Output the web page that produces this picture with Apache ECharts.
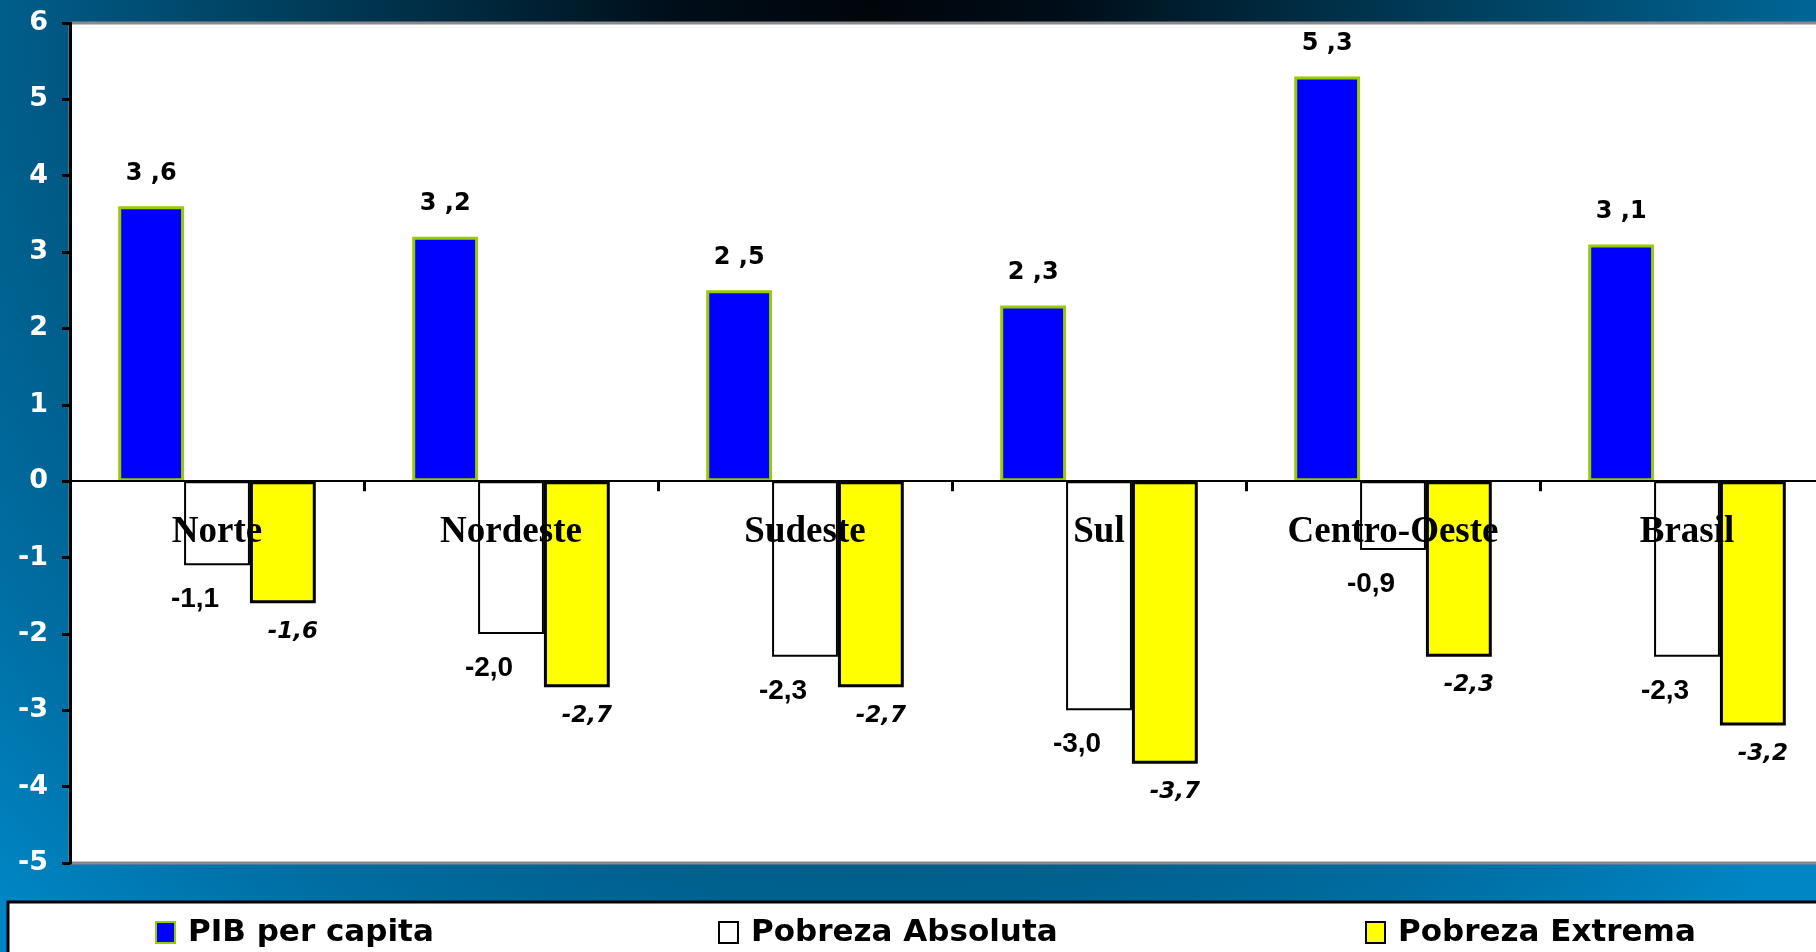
<!DOCTYPE html>
<html>
<head>
<meta charset="utf-8">
<script src="https://cdn.jsdelivr.net/npm/echarts@6/dist/echarts.min.js"></script>
<style>
html,body{margin:0;padding:0;}
body{width:1816px;height:952px;overflow:hidden;
background: radial-gradient(circle 1250px at 48% 0%, #00050a 0%, #000d18 15%, #002a40 33%, #00405f 48%, #005c88 68%, #0070a6 85%, #0086c4 100%);}
#chart{width:1816px;height:952px;}
</style>
</head>
<body>
<div id="chart"></div>
<script>
const categories = ['Norte', 'Nordeste', 'Sudeste', 'Sul', 'Centro-Oeste', 'Brasil'];
const pibPerCapita = [3.6, 3.2, 2.5, 2.3, 5.3, 3.1];
const pobrezaAbsoluta = [-1.1, -2.0, -2.3, -3.0, -0.9, -2.3];
const pobrezaExtrema = [-1.6, -2.7, -2.7, -3.7, -2.3, -3.2];
const yTicks = [-5, -4, -3, -2, -1, 0, 1, 2, 3, 4, 5, 6];
const categoryBaseline = categories.map(() => 0);

const fmt = v => v.toFixed(1).replace('.', ',');

const chart = echarts.init(document.getElementById('chart'), null, {renderer: 'canvas'});
chart.setOption({
  backgroundColor: 'transparent',
  animation: false,
  graphic: [{
    type: 'rect', z: -10,
    shape: {x: 8, y: 902, width: 1900, height: 120},
    style: {fill: '#ffffff', stroke: '#000000', lineWidth: 3}
  }],
  grid: {
    left: 70, top: 23, right: -18, bottom: 89,
    outerBoundsMode: 'none', containLabel: false,
    show: true, backgroundColor: '#ffffff', borderColor: '#8a8a8a', borderWidth: 3
  },
  legend: [
    {data: ['PIB per capita'], left: 150, top: 912},
    {data: ['Pobreza Absoluta'], left: 713, top: 912},
    {data: ['Pobreza Extrema'], left: 1360, top: 912}
  ].map(l => Object.assign(l, {
    icon: 'rect', itemWidth: 19, itemHeight: 21,
    textStyle: {fontFamily: 'DejaVu Sans', fontWeight: 'bold', fontSize: 31, color: '#000', padding: [0, 0, 0, 8]}
  })),
  xAxis: {
    type: 'category', data: categories, z: 10,
    axisLine: {onZero: true, lineStyle: {color: '#000', width: 2}},
    axisTick: {show: true, length: 10, lineStyle: {color: '#000', width: 3}},
    axisLabel: {show: false},
    splitLine: {show: false}
  },
  yAxis: {
    type: 'value', min: yTicks[0], max: yTicks[yTicks.length - 1], interval: 1, z: 10,
    axisLine: {show: true, lineStyle: {color: '#000', width: 3}},
    axisTick: {show: true, length: 8, lineStyle: {color: '#000', width: 3}},
    axisLabel: {margin: 22, fontFamily: 'DejaVu Sans', fontWeight: 'bold', fontSize: 27, color: '#fff'},
    splitLine: {show: false}
  },
  series: [
    {
      name: 'PIB per capita', type: 'bar', data: pibPerCapita,
      barWidth: '22.4%', barGap: '0%',
      itemStyle: {color: '#0000ff', borderColor: '#99cc00', borderWidth: 3},
      label: {show: true, position: 'top', distance: 21, formatter: p => fmt(p.value).replace(',', ' ,'),
        fontFamily: 'DejaVu Sans', fontWeight: 'bold', fontSize: 24, color: '#000'}
    },
    {
      name: 'Pobreza Absoluta', type: 'bar', data: pobrezaAbsoluta,
      barWidth: '22.4%', barGap: '0%',
      itemStyle: {color: '#ffffff', borderColor: '#000000', borderWidth: 2},
      label: {show: true, position: 'bottom', distance: 20, offset: [-22, 0], formatter: p => fmt(p.value),
        fontFamily: 'Liberation Sans', fontWeight: 'bold', fontSize: 28, color: '#000'}
    },
    {
      name: 'Pobreza Extrema', type: 'bar', data: pobrezaExtrema,
      barWidth: '22.4%', barGap: '0%',
      itemStyle: {color: '#ffff00', borderColor: '#000000', borderWidth: 3},
      label: {show: true, position: 'bottom', distance: 17, offset: [10, 0], formatter: p => fmt(p.value),
        fontFamily: 'DejaVu Sans', fontWeight: 'bold', fontStyle: 'italic', fontSize: 23, color: '#000'}
    },
    {
      name: 'categorias', type: 'scatter', data: categoryBaseline, z: 6,
      symbolSize: 0, silent: true, itemStyle: {opacity: 1},
      label: {show: true, position: 'bottom', distance: 33, formatter: p => categories[p.dataIndex],
        fontFamily: 'Liberation Serif', fontWeight: 'bold', fontSize: 37, color: '#000', opacity: 1}
    }
  ]
});
</script>
</body>
</html>
